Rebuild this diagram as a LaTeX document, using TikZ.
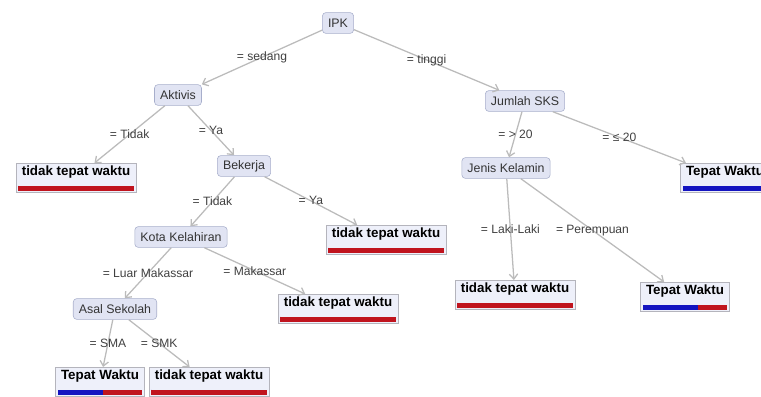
\documentclass[tikz,border=0pt]{standalone}
\usepackage{fontspec}
\setmainfont{Liberation Sans}
\usetikzlibrary{arrows.meta,calc}
\definecolor{nodefill}{HTML}{E1E4F3}
\definecolor{nodeline}{HTML}{A7AECB}
\definecolor{leaffill}{HTML}{EEF0FA}
\definecolor{leafline}{HTML}{B4B4BC}
\definecolor{edgegray}{HTML}{BBBBBB}
\definecolor{barred}{HTML}{C0141E}
\definecolor{barblue}{HTML}{1414C0}
\begin{document}
\begin{tikzpicture}[
        x=0.025cm, y=-0.025cm,
        split/.style={draw=nodeline, fill=nodefill, rounded corners=2.5pt, font=\fontsize{8.8}{10}\selectfont, text=black!80, inner xsep=4pt, minimum height=0.52cm},
        share/.style={path picture={
            \coordinate (bl) at ([shift={(1.5pt,1.5pt)}]path picture bounding box.south west);
            \coordinate (tr) at ([shift={(-1.5pt,5pt)}]path picture bounding box.south east);
            \fill[barblue] (bl) rectangle ($(bl|-tr)!#1!(tr)$);
            \fill[barred] ($(bl)!#1!(bl-|tr)$) rectangle (tr);}},
        leaf/.style={draw=leafline, fill=leaffill, font=\fontsize{9.5}{11}\selectfont\bfseries, inner xsep=4pt, inner ysep=2pt, text height=7pt, text depth=10pt, share=#1},
        leaf/.default=0,
        arrow/.style={draw=edgegray, line width=0.9pt, -{Straight Barb[length=3.5pt,width=6pt]}},
        lbl/.style={midway, font=\fontsize{8.6}{10}\selectfont, text=black!75}
    ]
    \clip (0,0) rectangle (761,396);
    % Nodes
    \node[split] (ipk) at (338,23) {IPK};
    \node[split] (aktivis) at (178,95) {Aktivis};
    \node[split] (sks) at (525,101) {Jumlah SKS};
    \node[leaf] (akt-tidak) at (76,178) {tidak tepat waktu};
    \node[split] (bekerja) at (244,166) {Bekerja};
    \node[split] (kelamin) at (506,168) {Jenis Kelamin};
    \node[leaf=1] (sks-kecil) at (725,178) {Tepat Waktu};
    \node[split] (kota) at (181,237) {Kota Kelahiran};
    \node[leaf] (kerja-ya) at (386,240) {tidak tepat waktu};
    \node[split] (sekolah) at (115,309) {Asal Sekolah};
    \node[leaf] (makassar) at (338,309) {tidak tepat waktu};
    \node[leaf] (laki) at (515,295) {tidak tepat waktu};
    \node[leaf=0.65] (perempuan) at (685,297) {Tepat Waktu};
    \node[leaf=0.54] (sma) at (100,382) {Tepat Waktu};
    \node[leaf] (smk) at (209,382) {tidak tepat waktu};

    % Arrows
    \draw [arrow] (ipk) -- node[lbl] {= sedang} (aktivis);
    \draw [arrow] (ipk) -- node[lbl] {= tinggi} (sks);
    \draw [arrow] (aktivis) -- node[lbl] {= Tidak} (akt-tidak);
    \draw [arrow] (aktivis) -- node[lbl] {= Ya} (bekerja);
    \draw [arrow] (sks) -- node[lbl] {= > 20} (kelamin);
    \draw [arrow] (sks) -- node[lbl] {= ≤ 20} (sks-kecil);
    \draw [arrow] (bekerja) -- node[lbl] {= Tidak} (kota);
    \draw [arrow] (bekerja) -- node[lbl] {= Ya} (kerja-ya);
    \draw [arrow] (kelamin) -- node[lbl] {= Laki-Laki} (laki);
    \draw [arrow] (kelamin) -- node[lbl] {= Perempuan} (perempuan);
    \draw [arrow] (kota) -- node[lbl] {= Luar Makassar} (sekolah);
    \draw [arrow] (kota) -- node[lbl] {= Makassar} (makassar);
    \draw [arrow] (sekolah) -- node[lbl] {= SMA} (sma);
    \draw [arrow] (sekolah) -- node[lbl] {= SMK} (smk);
\end{tikzpicture}
\end{document}
